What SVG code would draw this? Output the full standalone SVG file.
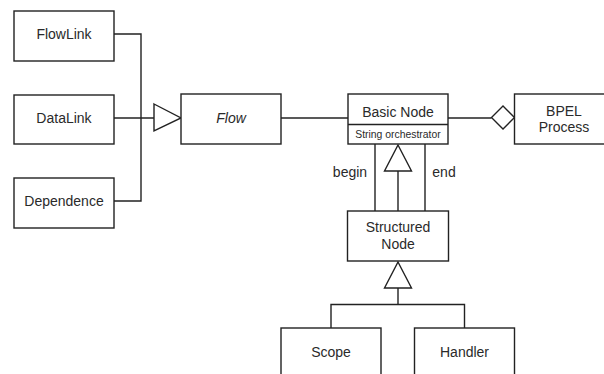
<svg xmlns="http://www.w3.org/2000/svg" width="604" height="374" viewBox="0 0 604 374">
<style>
.box{fill:#fff;stroke:#222;stroke-width:1.4}
.ln{fill:none;stroke:#222;stroke-width:1.4}
.tri{fill:#fff;stroke:#222;stroke-width:1.4}
text{font-family:"Liberation Sans",Arial,sans-serif;font-size:14px;fill:#2a2a2a;text-anchor:middle}
.small{font-size:10.4px}
</style>
<rect width="604" height="374" fill="#fff"/>
<g id="connectors">
<polyline class="ln" points="114,34 141,34 141,201 114,201"/>
<line class="ln" x1="114" y1="118" x2="154" y2="118"/>
<polygon class="tri" points="154,104 181,118 154,131"/>
<line class="ln" x1="281" y1="118" x2="348" y2="118"/>
<line class="ln" x1="448" y1="118" x2="491.5" y2="118"/>
<polygon class="tri" points="491.5,117.5 503,106 514.5,117.5 503,129"/>
<line class="ln" x1="375" y1="144" x2="375" y2="211"/>
<line class="ln" x1="425" y1="144" x2="425" y2="211"/>
<line class="ln" x1="398" y1="171" x2="398" y2="211"/>
<polygon class="tri" points="398,145 411.5,171 384.5,171"/>
<text x="350" y="177">begin</text>
<text x="444" y="177">end</text>
<polygon class="tri" points="398,262 411.5,288 384.5,288"/>
<polyline class="ln" points="398,288 398,304.5"/>
<polyline class="ln" points="331,328 331,304.5 464.5,304.5 464.5,328"/>
</g>
<g id="FlowLink"><rect class="box" x="14" y="11" width="100" height="50"/><text x="64" y="39">FlowLink</text></g>
<g id="DataLink"><rect class="box" x="14" y="95" width="100" height="49"/><text x="64" y="123">DataLink</text></g>
<g id="Dependence"><rect class="box" x="14" y="178" width="100" height="50"/><text x="64" y="206">Dependence</text></g>
<g id="Flow"><rect class="box" x="181" y="94" width="100" height="50"/><text x="231" y="123" font-style="italic">Flow</text></g>
<g id="BasicNode"><rect class="box" x="348" y="94" width="100" height="50"/><line class="ln" x1="348" y1="124.5" x2="448" y2="124.5"/><text x="398" y="117">Basic Node</text><text class="small" x="398" y="137.5">String orchestrator</text></g>
<g id="BPELProcess"><rect class="box" x="514.5" y="94" width="100" height="50"/><text x="564" y="116">BPEL</text><text x="564" y="131.5">Process</text></g>
<g id="StructuredNode"><rect class="box" x="347.5" y="211" width="101" height="50"/><text x="398" y="232">Structured</text><text x="398" y="249">Node</text></g>
<g id="Scope"><rect class="box" x="281" y="328" width="100" height="52"/><text x="331" y="357">Scope</text></g>
<g id="Handler"><rect class="box" x="414.5" y="328" width="100" height="52"/><text x="464.5" y="357">Handler</text></g>
</svg>
